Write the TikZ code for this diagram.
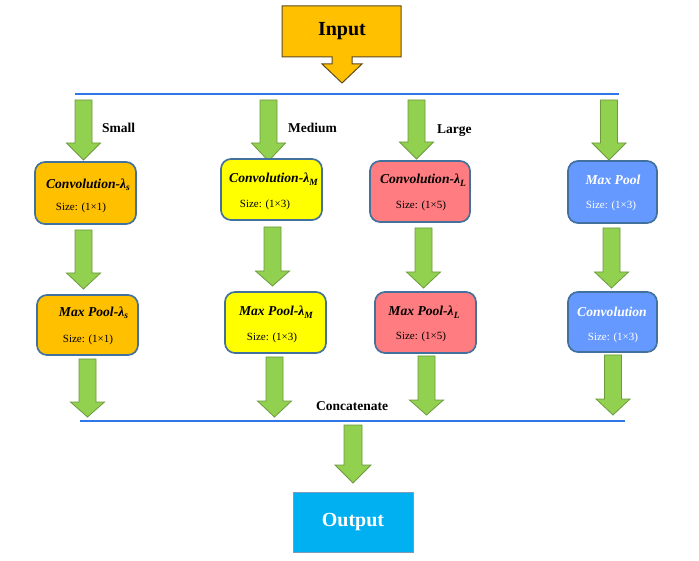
\documentclass[tikz,border=0pt]{standalone}
\usepackage{fontspec}
\setmainfont{Liberation Serif}
\definecolor{arrgreen}{HTML}{92D050}
\definecolor{arredge}{HTML}{6E9A3E}
\definecolor{boxedge}{HTML}{41719C}
\definecolor{cOrange}{HTML}{FFC000}
\definecolor{cYellow}{HTML}{FFFF00}
\definecolor{cPink}{HTML}{FF7C80}
\definecolor{cBlue}{HTML}{6699FF}
\definecolor{cCyan}{HTML}{00B0F0}
\definecolor{lineblue}{HTML}{2F76E8}
\definecolor{inedge}{HTML}{5E4B1E}
\newcommand\garrow[4]{%
  \draw[arrowbox] (#1-8.5,#2) -- (#1+8.5,#2) -- (#1+8.5,#3) -- (#1+17,#3) -- (#1,#4) -- (#1-17,#3) -- (#1-8.5,#3) -- cycle;}
\newcommand\lam[1]{λ\raisebox{-2.5pt}{\fontsize{9.5}{9.5}\selectfont #1}}
\begin{document}
\begin{tikzpicture}[x=1pt,y=-1pt,
  arrowbox/.style={fill=arrgreen,draw=arredge,line width=0.8pt,line join=miter},
  stagebox/.style={draw=boxedge,line width=1.7pt,rounded corners=10pt,inner sep=0pt},
  ttl/.style={font=\fontsize{13.6}{13.6}\selectfont\bfseries\itshape,inner sep=0pt},
  sz/.style={font=\fontsize{11}{11}\selectfont,inner sep=0pt},
  lbl/.style={font=\fontsize{13.5}{13.5}\selectfont\bfseries,inner sep=0pt},
  hline/.style={draw=lineblue,line width=2pt}]
\useasboundingbox (0,0) rectangle (699,561);
% Input callout
\draw[fill=cOrange,draw=inedge,line width=1pt] (282,6) -- (401,6) -- (401,57) -- (352,57) -- (352,64) -- (362,64) -- (342,83) -- (322,64) -- (332,64) -- (332,57) -- (282,57) -- cycle;
\node[font=\fontsize{20}{20}\selectfont\bfseries,inner sep=0pt] (input) at (342,31) {Input};
% top line
\coordinate (tl1) at (75,94);
\coordinate (tl2) at (619,94);
\draw[hline] (tl1) -- (tl2);
% top arrows
\garrow{83.5}{100}{143}{160}
\garrow{268.5}{100}{143}{161}
\garrow{416.5}{100}{142}{159}
\garrow{609}{100}{143}{160}
\node[lbl,anchor=west] (small) at (102,128) {Small};
\node[lbl,anchor=west] (medium) at (288,128) {Medium};
\node[lbl,anchor=west] (large) at (437,131) {Large};
% row 1 boxes
\node[stagebox,fill=cOrange,minimum width=101pt,minimum height=62pt] (b11) at (85.5,193) {};
\node[stagebox,fill=cYellow,minimum width=101pt,minimum height=61pt] (b12) at (271.5,189.5) {};
\node[stagebox,fill=cPink,minimum width=100pt,minimum height=61pt] (b13) at (420,191.5) {};
\node[stagebox,fill=cBlue,minimum width=89pt,minimum height=62pt] (b14) at (612.5,192) {};
\node[ttl] (t11) at (88,185) {Convolution-\lam{s}};
\node[sz] (s11) at (81,208) {Size: (1×1)};
\node[ttl] (t12) at (273.5,179) {Convolution-\lam{M}};
\node[sz] (s12) at (265,205) {Size: (1×3)};
\node[ttl] (t13) at (423,180) {Convolution-\lam{L}};
\node[sz] (s13) at (421,206) {Size: (1×5)};
\node[ttl,text=white] (t14) at (613,180) {Max Pool};
\node[sz,text=white] (s14) at (611,206) {Size: (1×3)};
% middle arrows
\garrow{83.5}{230}{273}{289}
\garrow{272.5}{227}{271}{286}
\garrow{423.5}{228}{272}{288}
\garrow{611.5}{228}{272}{288}
% row 2 boxes
\node[stagebox,fill=cOrange,minimum width=101pt,minimum height=60pt] (b21) at (87.5,325) {};
\node[stagebox,fill=cYellow,minimum width=101pt,minimum height=61pt] (b22) at (275.5,322.5) {};
\node[stagebox,fill=cPink,minimum width=101pt,minimum height=61pt] (b23) at (425.5,322.5) {};
\node[stagebox,fill=cBlue,minimum width=89pt,minimum height=60pt] (b24) at (612.5,322) {};
\node[ttl] (t21) at (93.5,313) {Max Pool-\lam{s}};
\node[sz] (s21) at (88,340) {Size: (1×1)};
\node[ttl] (t22) at (276,312) {Max Pool-\lam{M}};
\node[sz] (s22) at (272,338) {Size: (1×3)};
\node[ttl] (t23) at (424,312) {Max Pool-\lam{L}};
\node[sz] (s23) at (421,337) {Size: (1×5)};
\node[ttl,text=white] (t24) at (612,312) {Convolution};
\node[sz,text=white] (s24) at (613,338) {Size: (1×3)};
% bottom arrows
\garrow{87.5}{359}{402}{417}
\garrow{274.5}{357}{401}{417}
\garrow{426.5}{356}{400}{415}
\garrow{613}{355}{399}{415}
\node[lbl,anchor=west] (concat) at (316,406) {Concatenate};
% bottom line
\coordinate (bl1) at (80,421);
\coordinate (bl2) at (625,421);
\draw[hline] (bl1) -- (bl2);
% output
\draw[arrowbox] (344,425) -- (362,425) -- (362,465) -- (371,465) -- (353,483) -- (335,465) -- (344,465) -- cycle;
\node[fill=cCyan,draw=boxedge!70,line width=0.6pt,minimum width=120pt,minimum height=60pt,inner sep=0pt,text=white,font=\fontsize{20}{20}\selectfont\bfseries] (output) at (353,522) {Output};
\end{tikzpicture}
\end{document}
